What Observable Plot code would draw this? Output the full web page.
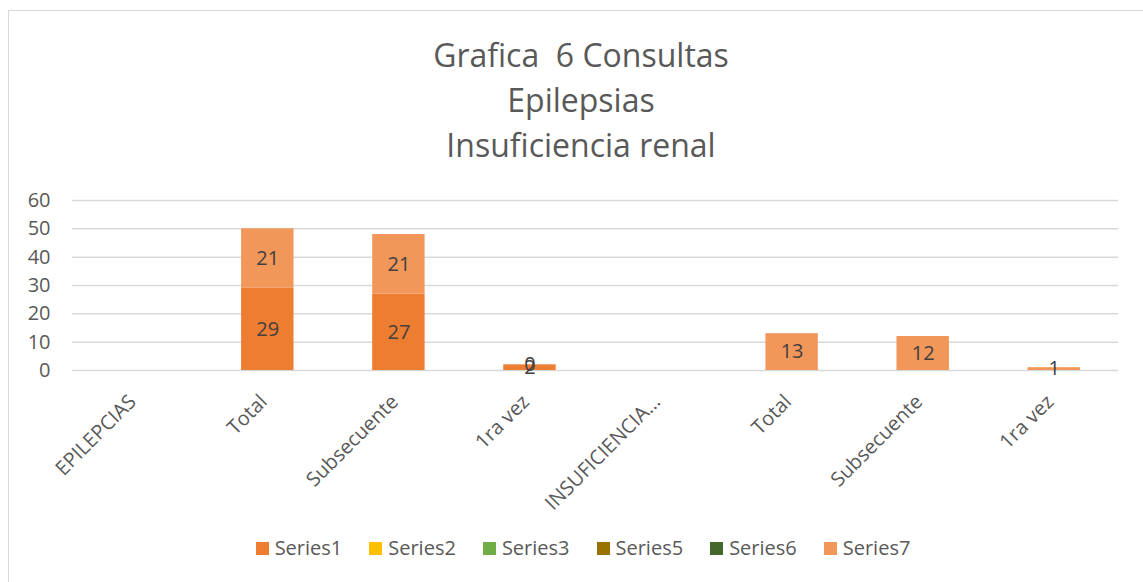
<!DOCTYPE html>
<html><head><meta charset="utf-8">
<script src="https://cdn.jsdelivr.net/npm/d3@7"></script>
<script src="https://cdn.jsdelivr.net/npm/@observablehq/plot@0.6"></script>
<style>
html,body{margin:0;padding:0;background:#fff;overflow:hidden;width:1143px;height:582px;}
#wrap{position:relative;width:1143px;height:582px;font-family:"Open Sans",sans-serif;color:#595959;}
#frame{position:absolute;left:8px;top:10px;width:1200px;height:620px;border:1.5px solid #d9d9d9;box-sizing:border-box;}
#title{position:absolute;left:0;width:1162px;top:32px;text-align:center;font-size:32px;line-height:45px;white-space:pre;}
#chart{position:absolute;left:0;top:0;}
#legend{position:absolute;left:0;width:1166px;top:534px;display:flex;justify-content:center;gap:27px;font-size:20px;line-height:28px;}
.item{display:flex;align-items:center;}
.sw{width:13px;height:13px;margin-right:6px;}
</style>
</head><body>
<div id="wrap">
  <div id="frame"></div>
  <div id="title"></div>
  <div id="chart"></div>
  <div id="legend"></div>
</div>
<script>
const titleLines = ["Grafica  6 Consultas", "Epilepsias", "Insuficiencia renal"];
const categories = ["EPILEPCIAS", "Total", "Subsecuente", "1ra vez", "INSUFICIENCIA...", "Total", "Subsecuente", "1ra vez"];
const series1 = [null, 29, 27, 2, null, null, null, null];
const series7 = [null, 21, 21, 0, null, 13, 12, 1];
const legendNames = ["Series1", "Series2", "Series3", "Series5", "Series6", "Series7"];
const legendColors = ["#ED7D31", "#FFC000", "#70AD47", "#997300", "#43682B", "#F1975A"];
const yTicks = [0, 10, 20, 30, 40, 50, 60];

document.getElementById("title").innerHTML = titleLines.map(t => `<div>${t}</div>`).join("");

const rows = [];
categories.forEach((c, i) => {
  if (series1[i] != null) rows.push({i, series: "Series1", value: series1[i]});
  if (series7[i] != null) rows.push({i, series: "Series7", value: series7[i]});
});

const colorMap = Object.fromEntries(legendNames.map((n, k) => [n, legendColors[k]]));

const chart = Plot.plot({
  width: 1143,
  height: 520,
  marginTop: 200,
  marginBottom: 150,
  marginLeft: 72,
  marginRight: 25,
  style: {fontFamily: "Open Sans, sans-serif", fontSize: "20px", color: "#595959", background: "transparent", overflow: "visible"},
  x: {domain: d3.range(categories.length), paddingInner: 0.6, paddingOuter: 0.29, round: false, label: null},
  y: {domain: [0, 60], label: null},
  marks: [
    Plot.ruleY(yTicks, {stroke: "#d9d9d9", strokeWidth: 1.5}),
    Plot.axisY({ticks: yTicks, tickSize: 0, tickPadding: 22, label: null}),
    Plot.axisX({tickSize: 0, tickPadding: 28, dx: -4, tickRotate: -45, tickFormat: i => categories[i], label: null}),
    Plot.barY(rows, Plot.stackY({x: "i", y: "value", fill: d => colorMap[d.series], order: null})),
    Plot.text(rows, Plot.stackY({x: "i", y: "value", text: d => String(d.value), order: null, fill: "#404040", fontSize: 20}))
  ]
});
document.getElementById("chart").appendChild(chart);

document.getElementById("legend").innerHTML = legendNames.map((n, k) =>
  `<div class="item"><div class="sw" style="background:${legendColors[k]}"></div><span>${n}</span></div>`).join("");
</script>
</body></html>
